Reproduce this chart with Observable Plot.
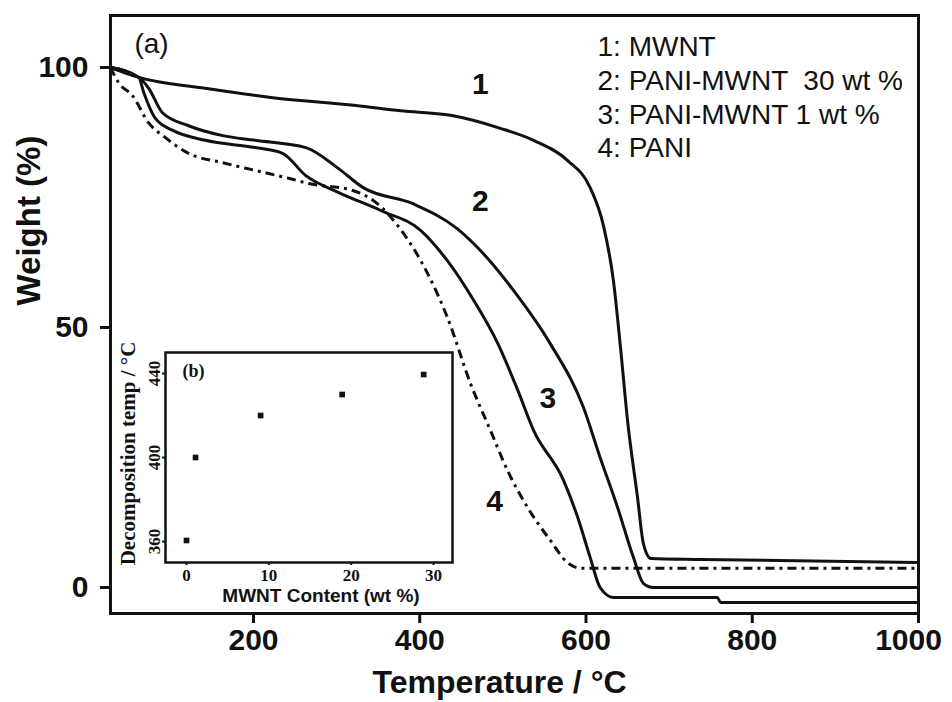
<!DOCTYPE html>
<html>
<head>
<meta charset="utf-8">
<script src="https://cdn.jsdelivr.net/npm/d3@7"></script>
<script src="https://cdn.jsdelivr.net/npm/@observablehq/plot@0.6"></script>
<style>
  html, body { margin: 0; padding: 0; background: #fff; }
  #wrap { position: relative; width: 952px; height: 702px; overflow: hidden; background: #fff; }
  #inset { position: absolute; left: 112px; top: 330px; }
  #main { position: absolute; left: 0; top: 0; }
</style>
</head>
<body>
<div id="wrap"><div id="main"></div><div id="inset"></div></div>
<script>
// ---------- Main chart data (a): TGA curves, Temperature (°C) vs Weight (%) ----------
const curve1T = [28, 62, 142, 223, 323, 377, 437, 497, 537, 578, 605, 621, 633, 641.5, 650, 662, 669, 678, 738, 1000];
const curve1W = [100, 98.1, 96.0, 94.2, 92.7, 91.7, 90.8, 88.3, 86.0, 82.1, 76.9, 69.6, 59.0, 46.2, 32.1, 17.3, 8.5, 5.6, 5.4, 4.8];

const curve2T = [28, 62, 74, 90.5, 122, 163, 202, 263, 302, 332, 392, 445, 473, 513, 557, 597, 617, 638, 657, 669, 681, 1000];
const curve2W = [100, 98.1, 96.0, 91.3, 88.8, 86.9, 86.0, 84.6, 80.6, 76.9, 73.8, 69.0, 64.8, 57.1, 46.9, 34.6, 25.0, 15.4, 5.8, 0.8, 0, 0];

const curve3T = [28, 62, 68, 82, 103, 142, 202, 235, 263, 302, 353, 401, 433, 465, 494, 518, 537, 573, 590, 605, 617, 633, 758, 762, 1000];
const curve3W = [100, 98.1, 95.2, 90.2, 87.9, 86.0, 84.6, 83.5, 79.2, 76.0, 72.5, 68.7, 62.9, 55.2, 46.9, 37.9, 30.2, 20.6, 13.5, 5.8, 0, -1.9, -1.9, -2.9, -2.9];

const curve4T = [28, 37.6, 54.4, 73.7, 94.1, 121.8, 162.7, 202.4, 242.1, 266.2, 320.3, 344.4, 380.5, 409.4, 433.4, 461.1, 485.1, 505.6, 529.7, 557.3, 577.7, 593.4, 1000];
const curve4W = [100, 97.1, 94.6, 89.4, 86.5, 83.5, 81.7, 80.2, 78.7, 77.7, 76.3, 74.4, 68.1, 60.4, 51.9, 39.2, 30.2, 22.5, 15.4, 9.0, 4.8, 3.7, 3.7];

const xTicks = [200, 400, 600, 800, 1000];
const yTicks = [0, 50, 100];

const curveNames = ["1", "2", "3", "4"];
const curveNameT = [473, 473, 554, 490];
const curveNameW = [96.7, 74.2, 36.3, 16.5];

const legendLines = ["1: MWNT", "2: PANI-MWNT  30 wt %", "3: PANI-MWNT 1 wt %", "4: PANI"];
const panelA = "(a)";
const xLabel = "Temperature / °C";
const yLabel = "Weight (%)";

// ---------- Inset data (b): decomposition temperature vs MWNT content ----------
const insetContent = [0, 1.1, 9, 18.9, 28.8];
const insetTemp = [360.5, 400, 420, 430, 439.5];
const insetXTicks = [0, 10, 20, 30];
const insetYTicks = [360, 400, 440];
const panelB = "(b)";
const insetXLabel = "MWNT Content (wt %)";
const insetYLabel = "Decomposition temp / °C";

const toRows = (T, W) => T.map((t, i) => ({T: t, W: W[i]}));

const sans = "'Liberation Sans', Arial, Helvetica, sans-serif";
const serif = "'Liberation Serif', 'Times New Roman', serif";
const ink = "#111";

const solidStyle = {x: "T", y: "W", stroke: ink, strokeWidth: 3, curve: "monotone-x", strokeLinejoin: "round"};
const tickText = {frameAnchor: "bottom", dy: 15, lineAnchor: "top", text: d => String(d), fontSize: 30, fontWeight: "bold", fill: ink};

const main = Plot.plot({
  width: 952,
  height: 702,
  marginLeft: 110,
  marginRight: 34,
  marginTop: 15,
  marginBottom: 89,
  style: {fontFamily: sans, color: ink, background: "transparent", overflow: "visible"},
  x: {domain: [28, 1000], label: null},
  y: {domain: [-5, 110], label: null},
  marks: [
    Plot.line(toRows(curve1T, curve1W), solidStyle),
    Plot.line(toRows(curve2T, curve2W), solidStyle),
    Plot.line(toRows(curve3T, curve3W), solidStyle),
    Plot.line(toRows(curve4T, curve4W), {...solidStyle, strokeDasharray: "9,5,3,5", strokeLinecap: "butt"}),
    Plot.frame({stroke: ink, strokeWidth: 3}),
    Plot.axisX(xTicks, {tickSize: 10, strokeWidth: 3, tickFormat: () => "", label: null}),
    Plot.text(xTicks.slice(0, -1), {x: d => d, ...tickText}),
    Plot.text(xTicks.slice(-1), {x: d => d, ...tickText, dx: -10}),
    Plot.axisY(yTicks, {tickSize: 10, tickPadding: 12, strokeWidth: 3, fontSize: 30, fontWeight: "bold", label: null, fill: ink}),
    Plot.text(curveNames, {x: (d, i) => curveNameT[i], y: (d, i) => curveNameW[i], text: d => d, fontSize: 30, fontWeight: "bold", fill: ink}),
    Plot.text([legendLines.join("\n")], {frameAnchor: "top-left", dx: 487, dy: 17, textAnchor: "start", lineAnchor: "top", lineHeight: 1.2, fontSize: 28, fill: ink}),
    Plot.text([panelA], {frameAnchor: "top-left", dx: 41, dy: 18, textAnchor: "middle", lineAnchor: "top", fontSize: 28, fill: ink}),
    Plot.text([xLabel], {frameAnchor: "bottom", dx: -15, dy: 69, lineAnchor: "middle", fontSize: 32, fontWeight: "bold", fill: ink}),
    Plot.text([yLabel], {frameAnchor: "left", dx: -81, dy: -9, rotate: -90, lineAnchor: "middle", fontSize: 33, fontWeight: "bold", fill: ink})
  ]
});
document.getElementById("main").appendChild(main);

const inset = Plot.plot({
  width: 360,
  height: 280,
  marginLeft: 53,
  marginRight: 20,
  marginTop: 22,
  marginBottom: 48,
  style: {fontFamily: serif, color: ink, background: "transparent", overflow: "visible"},
  x: {domain: [-2.55, 32.3], label: null},
  y: {domain: [350, 450], label: null},
  marks: [
    Plot.frame({stroke: ink, strokeWidth: 2.5, fill: "white"}),
    Plot.dot(insetContent, {x: d => d, y: (d, i) => insetTemp[i], symbol: "square", r: 3.2, fill: ink, stroke: null}),
    Plot.axisX(insetXTicks, {tickSize: 3, tickPadding: 3, strokeWidth: 2, fontSize: 17, fontWeight: "bold", fontFamily: serif, label: null, fill: ink}),
    Plot.axisY(insetYTicks, {tickSize: 3, tickFormat: () => "", strokeWidth: 2, label: null}),
    Plot.text(insetYTicks, {y: d => d, frameAnchor: "left", text: d => String(d), rotate: -90, textAnchor: "middle", lineAnchor: "bottom", dx: -6, fontSize: 17, fontWeight: "bold", fontFamily: serif, fill: ink}),
    Plot.text([insetYLabel], {frameAnchor: "left", dx: -37, dy: -4, rotate: -90, textAnchor: "middle", lineAnchor: "middle", fontSize: 21, fontWeight: "bold", fontFamily: serif, fill: ink}),
    Plot.text([panelB], {frameAnchor: "top-left", dx: 17, dy: 12, textAnchor: "start", lineAnchor: "top", fontSize: 18, fontWeight: "bold", fontFamily: serif, fill: ink}),
    Plot.text([insetXLabel], {frameAnchor: "bottom", dx: 12, dy: 33, lineAnchor: "middle", fontSize: 19, fontWeight: "bold", fontFamily: sans, fill: ink})
  ]
});
document.getElementById("inset").appendChild(inset);
</script>
</body>
</html>
